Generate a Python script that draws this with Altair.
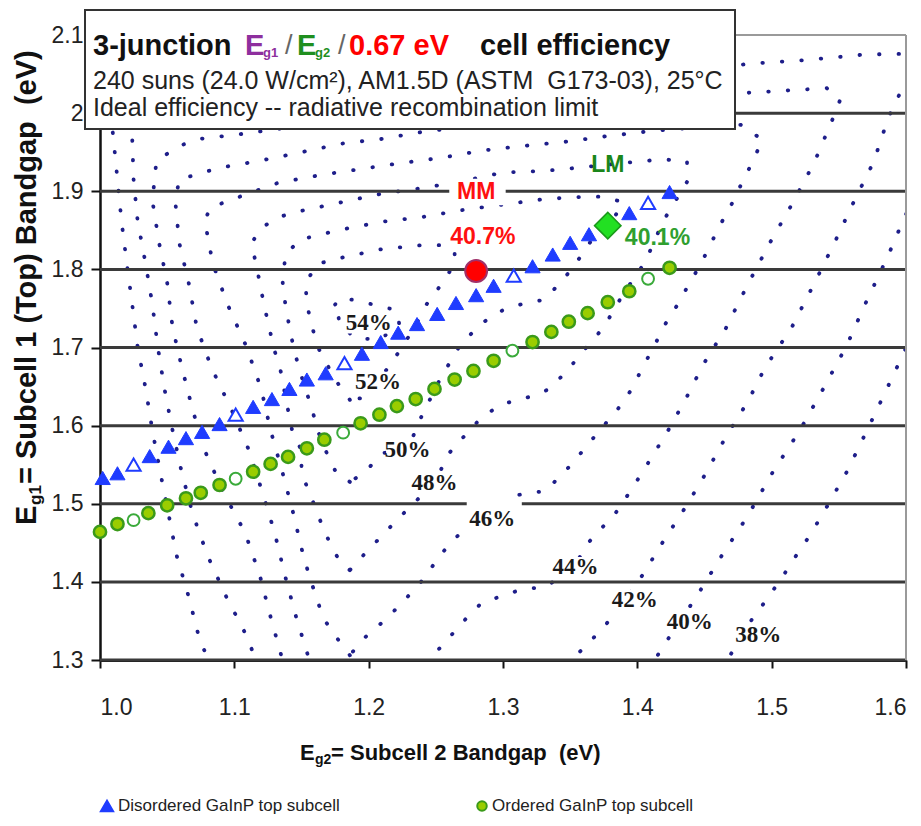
import altair as alt
import pandas as pd

# ---------------- axes ----------------
X_TICKS = [1.0, 1.1, 1.2, 1.3, 1.4, 1.5, 1.6]
Y_TICKS = [1.3, 1.4, 1.5, 1.6, 1.7, 1.8, 1.9, 2.0, 2.1]
GRID_Y = [1.3, 1.4, 1.5, 1.6, 1.7, 1.8, 1.9, 2.0]
FRAME_TOP_Y = [2.1]
FRAME_RIGHT_X = [1.6]

# ---------------- disordered GaInP top subcell (triangles) ----------------
TRI_X = [1.002, 1.013, 1.025, 1.037, 1.051, 1.064, 1.076, 1.089, 1.101, 1.114, 1.128,
         1.141, 1.154, 1.168, 1.182, 1.195, 1.209, 1.222, 1.236, 1.251, 1.265, 1.280,
         1.293, 1.308, 1.322, 1.337, 1.350, 1.364, 1.378, 1.394, 1.408, 1.424]
TRI_Y = [1.533, 1.539, 1.550, 1.561, 1.573, 1.584, 1.592, 1.602, 1.614, 1.624, 1.634,
         1.647, 1.659, 1.667, 1.680, 1.692, 1.707, 1.719, 1.730, 1.743, 1.757, 1.767,
         1.779, 1.792, 1.804, 1.819, 1.834, 1.845, 1.858, 1.872, 1.885, 1.899]
TRI_OPEN = [2, 8, 14, 23, 30]

# ---------------- ordered GaInP top subcell (circles) ----------------
CIRC_X = [1.000, 1.013, 1.025, 1.036, 1.050, 1.064, 1.075, 1.089, 1.101, 1.114, 1.127,
          1.140, 1.154, 1.167, 1.181, 1.194, 1.208, 1.221, 1.235, 1.249, 1.264, 1.278,
          1.293, 1.307, 1.322, 1.336, 1.349, 1.363, 1.378, 1.394, 1.408, 1.424]
CIRC_Y = [1.464, 1.474, 1.479, 1.488, 1.498, 1.507, 1.514, 1.524, 1.532, 1.541, 1.551,
          1.560, 1.571, 1.582, 1.591, 1.603, 1.614, 1.625, 1.634, 1.647, 1.659, 1.670,
          1.683, 1.696, 1.707, 1.720, 1.733, 1.744, 1.758, 1.772, 1.788, 1.802]
CIRC_OPEN = [2, 8, 14, 23, 30]

# ---------------- measured cells ----------------
MM_X, MM_Y = [1.280], [1.798]
LM_X, LM_Y = [1.378], [1.856]
ANNOT_TEXT = ["MM", "40.7%", "LM", "40.1%"]
ANNOT_X = [1.280, 1.285, 1.378, 1.415]
ANNOT_Y = [1.899, 1.842, 1.933, 1.840]
ANNOT_COLOR = ["#ff1010", "#ff1010", "#1a861a", "#2f9f2f"]

# ---------------- iso-efficiency contour labels ----------------
CLAB_TEXT = ["54%", "52%", "50%", "48%", "46%", "44%", "42%", "40%", "38%"]
CLAB_X = [1.200, 1.207, 1.229, 1.249, 1.292, 1.354, 1.398, 1.439, 1.490]
CLAB_Y = [1.731, 1.656, 1.569, 1.527, 1.481, 1.419, 1.377, 1.349, 1.332]

# ---------------- iso-efficiency contours (dotted), (Eg2, Eg1) ----------------
C38_LEFT = [(1.008, 2.000), (1.010, 1.967), (1.013, 1.915), (1.016, 1.862), (1.020, 1.807),
            (1.024, 1.755), (1.028, 1.701), (1.034, 1.647), (1.039, 1.594), (1.045, 1.539),
            (1.051, 1.487), (1.057, 1.434), (1.066, 1.381), (1.074, 1.327), (1.081, 1.299),
            (1.084, 1.285)]
C38_RIGHT = [(1.462, 1.287), (1.467, 1.300), (1.486, 1.354), (1.497, 1.379), (1.509, 1.409),
             (1.518, 1.433), (1.529, 1.461), (1.541, 1.496), (1.556, 1.541), (1.571, 1.594),
             (1.586, 1.648), (1.601, 1.703)]
C40_LEFT = [(1.023, 1.990), (1.024, 1.967), (1.025, 1.915), (1.028, 1.862), (1.034, 1.807),
            (1.039, 1.755), (1.043, 1.701), (1.048, 1.647), (1.054, 1.594), (1.061, 1.539),
            (1.069, 1.487), (1.080, 1.434), (1.094, 1.381), (1.110, 1.328), (1.116, 1.299),
            (1.121, 1.285)]
C40_RIGHT = [(1.408, 1.285), (1.413, 1.300), (1.419, 1.317), (1.444, 1.381), (1.463, 1.434),
             (1.482, 1.484), (1.501, 1.541), (1.521, 1.594), (1.538, 1.646), (1.556, 1.703),
             (1.570, 1.757), (1.586, 1.815), (1.598, 1.863), (1.605, 1.889)]
C42_LEFT = [(1.141, 1.285), (1.136, 1.299), (1.127, 1.355), (1.119, 1.408), (1.108, 1.463),
            (1.092, 1.514), (1.078, 1.568), (1.069, 1.620), (1.061, 1.674), (1.054, 1.726),
            (1.050, 1.783), (1.044, 1.834), (1.039, 1.888), (1.042, 1.939), (1.059, 1.958),
            (1.074, 1.967), (1.104, 1.973), (1.482, 2.063), (1.526, 2.068), (1.569, 2.075),
            (1.601, 2.076)]
C42_RIGHT = [(1.601, 2.045), (1.594, 2.020), (1.587, 1.995), (1.576, 1.938), (1.561, 1.886),
             (1.547, 1.835), (1.532, 1.783), (1.515, 1.726), (1.495, 1.674), (1.482, 1.630),
             (1.466, 1.586), (1.451, 1.539), (1.436, 1.496), (1.419, 1.451), (1.404, 1.409),
             (1.391, 1.377), (1.375, 1.342), (1.361, 1.317), (1.351, 1.300), (1.345, 1.285)]
C44 = [(1.160, 1.285), (1.156, 1.299), (1.146, 1.355), (1.138, 1.406), (1.130, 1.463),
       (1.121, 1.514), (1.111, 1.568), (1.098, 1.620), (1.083, 1.674), (1.072, 1.726),
       (1.066, 1.783), (1.059, 1.834), (1.056, 1.888), (1.059, 1.915), (1.089, 1.930),
       (1.119, 1.939), (1.150, 1.950), (1.180, 1.961), (1.210, 1.967), (1.240, 1.976),
       (1.482, 2.026), (1.512, 2.029), (1.541, 2.032), (1.551, 2.017), (1.546, 1.995),
       (1.532, 1.938), (1.516, 1.886), (1.499, 1.835), (1.482, 1.780), (1.466, 1.725),
       (1.449, 1.678), (1.436, 1.634), (1.423, 1.594), (1.413, 1.566), (1.404, 1.541),
       (1.394, 1.514), (1.383, 1.486), (1.369, 1.461), (1.360, 1.443), (1.354, 1.419),
       (1.331, 1.393), (1.315, 1.391), (1.301, 1.383), (1.284, 1.373), (1.273, 1.354),
       (1.259, 1.327), (1.245, 1.300), (1.238, 1.285)]
C46 = [(1.186, 1.306), (1.176, 1.329), (1.166, 1.354), (1.161, 1.381), (1.156, 1.406),
       (1.150, 1.443), (1.144, 1.487), (1.136, 1.539), (1.127, 1.594), (1.120, 1.647),
       (1.109, 1.701), (1.095, 1.755), (1.084, 1.807), (1.078, 1.862), (1.082, 1.879),
       (1.104, 1.893), (1.133, 1.911), (1.165, 1.921), (1.196, 1.929), (1.224, 1.936),
       (1.255, 1.943), (1.284, 1.952), (1.315, 1.958), (1.345, 1.963), (1.375, 1.970),
       (1.410, 1.977), (1.447, 1.982), (1.477, 1.985), (1.493, 1.966), (1.486, 1.938),
       (1.479, 1.915), (1.471, 1.886), (1.463, 1.861), (1.455, 1.834), (1.447, 1.806),
       (1.439, 1.783), (1.430, 1.755), (1.419, 1.725), (1.413, 1.703), (1.404, 1.675),
       (1.396, 1.647), (1.385, 1.620), (1.372, 1.594), (1.360, 1.569), (1.345, 1.539),
       (1.331, 1.516), (1.315, 1.513), (1.301, 1.505), (1.292, 1.481), (1.270, 1.466),
       (1.253, 1.434), (1.242, 1.406), (1.229, 1.381), (1.214, 1.354), (1.196, 1.327),
       (1.186, 1.306)]
C48 = [(1.186, 1.415), (1.179, 1.424), (1.168, 1.461), (1.162, 1.487), (1.156, 1.514),
       (1.150, 1.539), (1.150, 1.568), (1.143, 1.594), (1.140, 1.620), (1.134, 1.674),
       (1.129, 1.701), (1.126, 1.726), (1.122, 1.755), (1.119, 1.783), (1.116, 1.807),
       (1.113, 1.834), (1.120, 1.853), (1.133, 1.867), (1.150, 1.875), (1.180, 1.886),
       (1.210, 1.897), (1.240, 1.904), (1.270, 1.913), (1.300, 1.924), (1.331, 1.926),
       (1.361, 1.931), (1.389, 1.936), (1.419, 1.941), (1.437, 1.938), (1.437, 1.912),
       (1.419, 1.861), (1.406, 1.810), (1.389, 1.767), (1.375, 1.726), (1.361, 1.698),
       (1.350, 1.675), (1.335, 1.647), (1.315, 1.634), (1.300, 1.628), (1.285, 1.612),
       (1.275, 1.594), (1.260, 1.565), (1.249, 1.527), (1.225, 1.486), (1.212, 1.463),
       (1.196, 1.434), (1.186, 1.415)]
C50 = [(1.186, 1.528), (1.176, 1.539), (1.168, 1.568), (1.162, 1.594), (1.158, 1.620),
       (1.148, 1.674), (1.144, 1.701), (1.141, 1.726), (1.138, 1.755), (1.136, 1.783),
       (1.138, 1.819), (1.149, 1.838), (1.165, 1.845), (1.180, 1.851), (1.210, 1.861),
       (1.240, 1.867), (1.270, 1.876), (1.300, 1.883), (1.331, 1.890), (1.361, 1.893),
       (1.375, 1.893), (1.389, 1.886), (1.380, 1.857), (1.365, 1.835), (1.354, 1.807),
       (1.343, 1.783), (1.330, 1.761), (1.313, 1.755), (1.300, 1.748), (1.284, 1.731),
       (1.268, 1.703), (1.253, 1.659), (1.238, 1.607), (1.229, 1.569), (1.211, 1.565),
       (1.196, 1.539), (1.186, 1.528)]
C52 = [(1.186, 1.633), (1.175, 1.659), (1.162, 1.701), (1.158, 1.726), (1.154, 1.755),
       (1.153, 1.783), (1.162, 1.807), (1.180, 1.815), (1.210, 1.826), (1.240, 1.831),
       (1.255, 1.831), (1.264, 1.822), (1.264, 1.807), (1.255, 1.783), (1.243, 1.755),
       (1.240, 1.744), (1.226, 1.703), (1.207, 1.656), (1.194, 1.635), (1.186, 1.633)]
C54 = [(1.175, 1.755), (1.180, 1.764), (1.196, 1.758), (1.220, 1.748), (1.223, 1.729),
       (1.208, 1.710), (1.190, 1.712), (1.179, 1.729), (1.175, 1.755)]

CONTOUR_PIECES = [("38a", C38_LEFT), ("38b", C38_RIGHT), ("40a", C40_LEFT), ("40b", C40_RIGHT),
                  ("42a", C42_LEFT), ("42b", C42_RIGHT), ("44", C44), ("46", C46),
                  ("48", C48), ("50", C50), ("52", C52), ("54", C54)]

# ---------------- build tables ----------------
rows = []
for name, pts in CONTOUR_PIECES:
    for i, (ex, ey) in enumerate(pts):
        rows.append({"piece": name, "i": i, "x": ex, "y": ey})
contour_df = pd.DataFrame(rows)

tri_df = pd.DataFrame({"x": TRI_X, "y": TRI_Y,
                       "open": [i in TRI_OPEN for i in range(len(TRI_X))]})
circ_df = pd.DataFrame({"x": CIRC_X, "y": CIRC_Y,
                        "open": [i in CIRC_OPEN for i in range(len(CIRC_X))]})
clab_df = pd.DataFrame({"label": CLAB_TEXT, "x": CLAB_X, "y": CLAB_Y})
annot_df = pd.DataFrame({"label": ANNOT_TEXT, "x": ANNOT_X, "y": ANNOT_Y, "c": ANNOT_COLOR})
one = pd.DataFrame({"a": [0]})

XS = alt.Scale(domain=[1.0, 1.6], nice=False, zero=False)
YS = alt.Scale(domain=[1.3, 2.1], nice=False, zero=False)
XAX = alt.Axis(values=X_TICKS, format=".1f", title="", grid=False,
               domainColor="#111111", domainWidth=3, tickColor="#111111", tickWidth=2,
               tickSize=8, labelFont="Liberation Sans", labelFontSize=23,
               labelColor="#222222", labelPadding=28)
YAX = alt.Axis(values=Y_TICKS, labelExpr="datum.value == 2 ? '2' : format(datum.value, '.1f')",
               title="", grid=False, domainColor="#111111", domainWidth=2.5,
               tickColor="#111111", tickWidth=2, tickSize=9, labelFont="Liberation Sans",
               labelFontSize=23, labelColor="#222222", labelPadding=8)


def X(f="x"):
    return alt.X(f + ":Q", scale=XS, axis=XAX)


def Y(f="y"):
    return alt.Y(f + ":Q", scale=YS, axis=YAX)


def txt(text, x, y, **kw):
    return alt.Chart(one).mark_text(text=text, **kw).encode(x=alt.value(x), y=alt.value(y))


layers = []

# dotted iso-efficiency contours
layers.append(
    alt.Chart(contour_df).mark_line(clip=True, color="#1e1e8a", strokeWidth=3.8,
                                    strokeDash=[0.5, 19], strokeCap="round")
    .encode(x=X(), y=Y(), detail="piece:N", order="i:Q")
)

# white backgrounds of contour labels
layers.append(
    alt.Chart(clab_df).transform_calculate(
        x1="datum.x - 0.016", x2="datum.x + 0.016",
        y1="datum.y - 0.013", y2="datum.y + 0.013"
    ).mark_rect(color="white").encode(x=X("x1"), x2="x2:Q", y=Y("y1"), y2="y2:Q")
)

# horizontal grid lines and frame
layers.append(alt.Chart(pd.DataFrame({"g": GRID_Y})).mark_rule(color="#3a3a3a", strokeWidth=3)
              .encode(y=Y("g")))
layers.append(alt.Chart(pd.DataFrame({"g": FRAME_TOP_Y})).mark_rule(color="#9a9a9a", strokeWidth=2)
              .encode(y=Y("g")))
layers.append(alt.Chart(pd.DataFrame({"g": FRAME_RIGHT_X})).mark_rule(color="#9a9a9a", strokeWidth=2)
              .encode(x=X("g")))

# white gaps in grid lines behind "MM" and "46%"
layers.append(
    alt.Chart(annot_df).transform_filter("datum.label == 'MM'").transform_calculate(
        x1="datum.x - 0.020", x2="datum.x + 0.022", y1="datum.y - 0.017", y2="datum.y + 0.017"
    ).mark_rect(color="white").encode(x=X("x1"), x2="x2:Q", y=Y("y1"), y2="y2:Q")
)
layers.append(
    alt.Chart(clab_df).transform_filter("datum.label == '46%'").transform_calculate(
        x1="datum.x - 0.019", x2="datum.x + 0.022", y1="datum.y - 0.020", y2="datum.y + 0.028"
    ).mark_rect(color="white").encode(x=X("x1"), x2="x2:Q", y=Y("y1"), y2="y2:Q")
)

# contour labels
layers.append(
    alt.Chart(clab_df).mark_text(font="Liberation Serif", fontWeight="bold", fontSize=23,
                                 color="#1a1a1a", baseline="middle", align="center")
    .encode(x=X(), y=Y(), text="label:N")
)

# data series
layers.append(
    alt.Chart(tri_df).transform_filter("!datum.open").mark_point(
        shape="triangle-up", size=230, filled=True, fill="#1f3cff", stroke="#1f3cff",
        strokeWidth=1, opacity=1).encode(x=X(), y=Y())
)
layers.append(
    alt.Chart(tri_df).transform_filter("datum.open").mark_point(
        shape="triangle-up", size=200, filled=True, fill="white", stroke="#1f3cff",
        strokeWidth=2, opacity=1).encode(x=X(), y=Y())
)
layers.append(
    alt.Chart(circ_df).transform_filter("!datum.open").mark_point(
        shape="circle", size=150, filled=True, fill="#9acd00", stroke="#3a9a1a",
        strokeWidth=2.5, opacity=1).encode(x=X(), y=Y())
)
layers.append(
    alt.Chart(circ_df).transform_filter("datum.open").mark_point(
        shape="circle", size=140, filled=True, fill="white", stroke="#3aaa3a",
        strokeWidth=2, opacity=1).encode(x=X(), y=Y())
)
layers.append(
    alt.Chart(pd.DataFrame({"x": MM_X, "y": MM_Y})).mark_point(
        shape="circle", size=480, filled=True, fill="#ff0000", stroke="#a0306a",
        strokeWidth=2, opacity=1).encode(x=X(), y=Y())
)
layers.append(
    alt.Chart(pd.DataFrame({"x": LM_X, "y": LM_Y})).mark_point(
        shape="diamond", size=700, filled=True, fill="#22e022", stroke="#1a9a1a",
        strokeWidth=1.5, opacity=1).encode(x=X(), y=Y())
)
layers.append(
    alt.Chart(annot_df).mark_text(font="Liberation Sans", fontWeight="bold", fontSize=23,
                                  baseline="middle", align="center")
    .encode(x=X(), y=Y(), text="label:N", color=alt.Color("c:N", scale=None))
)

# title box (pixel positioned, relative to plot origin)
layers.append(alt.Chart(one).mark_rect(fill="white", stroke="#333333", strokeWidth=2)
              .encode(x=alt.value(-15), x2=alt.value(635), y=alt.value(-25), y2=alt.value(94)))
F = "Liberation Sans"
layers += [
    txt("3-junction", -7, 11, font=F, fontSize=29, fontWeight="bold", color="#111111", align="left"),
    txt("E", 145, 11, font=F, fontSize=29, fontWeight="bold", color="#8e2f9e", align="left"),
    txt("g1", 163, 18, font=F, fontSize=13, fontWeight="bold", color="#8e2f9e", align="left"),
    txt("/", 185, 11, font=F, fontSize=27, color="#666666", align="left"),
    txt("E", 197, 11, font=F, fontSize=29, fontWeight="bold", color="#1f8f1f", align="left"),
    txt("g2", 215, 18, font=F, fontSize=13, fontWeight="bold", color="#1f8f1f", align="left"),
    txt("/", 238, 11, font=F, fontSize=27, color="#666666", align="left"),
    txt("0.67 eV", 249, 11, font=F, fontSize=29, fontWeight="bold", color="#ff0000", align="left"),
    txt("cell efficiency", 380, 11, font=F, fontSize=29, fontWeight="bold", color="#111111", align="left"),
    txt("240 suns (24.0 W/cm\u00b2), AM1.5D (ASTM\u00a0\u00a0G173-03), 25\u00b0C", -7, 46,
        font=F, fontSize=25, color="#222222", align="left"),
    txt("Ideal efficiency -- radiative recombination limit", -7, 73,
        font=F, fontSize=25, color="#222222", align="left"),
]

# axis titles with subscripts
layers += [
    txt("E", 200, 718, font=F, fontSize=22, fontWeight="bold", color="#111111", align="left"),
    txt("g2", 215, 725, font=F, fontSize=14, fontWeight="bold", color="#111111", align="left"),
    txt("= Subcell 2 Bandgap\u00a0\u00a0(eV)", 231, 718, font=F, fontSize=22, fontWeight="bold",
        color="#111111", align="left"),
    txt("E", -73, 490, font=F, fontSize=29, fontWeight="bold", color="#111111", align="left",
        angle=270, baseline="middle"),
    txt("g1", -64, 470, font=F, fontSize=17, fontWeight="bold", color="#111111", align="left",
        angle=270, baseline="middle"),
    txt("= Subcell 1 (Top) Bandgap\u00a0\u00a0(eV)", -73, 449, font=F, fontSize=29,
        fontWeight="bold", color="#111111", align="left", angle=270, baseline="middle"),
]

# legend (pixel positioned)
layers += [
    alt.Chart(one).mark_point(shape="triangle-up", size=150, filled=True, fill="#1f3cff",
                              stroke="#1f3cff", opacity=1)
    .encode(x=alt.value(7), y=alt.value(771)),
    txt("Disordered GaInP top subcell", 18, 771, font=F, fontSize=17, color="#222222",
        align="left", baseline="middle"),
    alt.Chart(one).mark_point(shape="circle", size=90, filled=True, fill="#9acd00",
                              stroke="#3a9a1a", strokeWidth=2, opacity=1)
    .encode(x=alt.value(382), y=alt.value(771)),
    txt("Ordered GaInP top subcell", 392, 771, font=F, fontSize=17, color="#222222",
        align="left", baseline="middle"),
]

chart = alt.layer(*layers).properties(
    width=806, height=625,
    autosize=alt.AutoSizeParams(type="none"),
    padding={"left": 100, "top": 35, "right": 15, "bottom": 166},
    background="white",
).configure_view(strokeWidth=0)

chart.save("out.html", embed_options={"renderer": "svg", "actions": False})
